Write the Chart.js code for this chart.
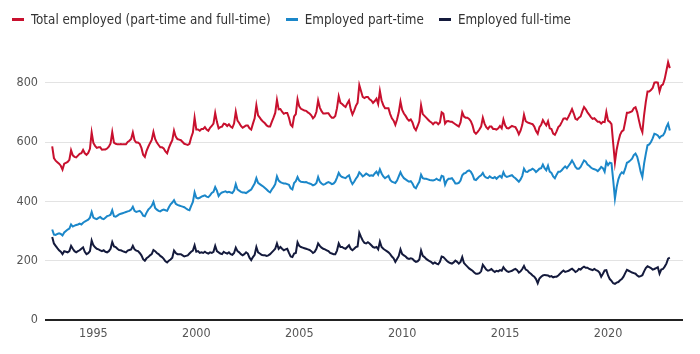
<!DOCTYPE html>
<html>
<head>
<meta charset="utf-8">
<script src="https://cdn.jsdelivr.net/npm/chart.js@4.4.1/dist/chart.umd.min.js"></script>
<style>
html,body{margin:0;padding:0;background:#fff;}
#wrap{position:relative;width:700px;height:354px;overflow:hidden;}
#legend{position:absolute;left:12px;top:12px;display:flex;align-items:center;font-family:'Liberation Sans Narrow','DejaVu Sans Condensed','Roboto',sans-serif;font-size:13.3px;color:#333;white-space:nowrap;}
#legend .item{display:flex;align-items:center;margin-right:15px;}
#legend .mk{display:inline-block;width:12px;height:3px;margin-right:7px;}
canvas{position:absolute;left:0;top:0;}
</style>
</head>
<body>
<div id="wrap"><canvas id="c" width="700" height="354"></canvas><div id="legend"></div></div>
<script>
// Monthly series, first value = January 1993, last value = January 2023 (thousands)
const startYear = 1993;
const seriesNames = ["Total employed (part-time and full-time)", "Employed part-time", "Employed full-time"];
const seriesColors = ["#c8102e", "#1b87c9", "#141a3c"];

const totalEmployed = [
585,546,537,532,527,520,507,527,530,533,540,572,
555,550,548,554,560,562,573,562,557,563,577,632,
597,587,580,582,582,574,575,575,578,584,595,633,
598,594,592,592,593,592,592,592,600,604,610,632,
606,598,598,594,580,557,550,570,584,596,607,634,
610,598,590,582,582,578,568,562,580,594,606,638,
618,610,608,606,600,594,592,590,594,615,632,682,
642,642,638,644,644,650,642,638,648,654,662,698,
668,646,650,652,662,660,654,660,652,648,662,702,
672,664,654,648,652,656,656,646,642,662,680,724,
690,682,674,668,663,656,652,652,668,682,698,742,
710,711,702,695,698,698,682,658,652,686,694,744,
720,712,709,706,705,700,696,690,680,686,702,740,
716,704,696,696,697,697,688,682,682,688,714,754,
732,728,722,718,730,740,710,693,706,722,732,792,
772,752,748,752,752,744,740,732,738,746,728,772,
740,724,714,714,714,694,680,672,658,676,700,736,
708,696,688,678,672,676,666,648,640,654,670,724,
694,688,682,676,670,666,660,666,666,660,666,700,
696,662,670,671,668,668,664,660,656,652,666,700,
686,682,682,678,670,656,634,628,634,642,652,682,
662,650,644,652,652,644,644,642,646,654,646,676,
656,647,646,650,654,652,650,640,626,638,658,692,
670,666,664,662,660,652,637,628,650,658,674,664,
656,670,646,644,628,624,636,650,656,667,679,680,
676,686,698,711,696,678,675,682,686,703,718,710,
700,692,684,678,680,674,668,668,662,668,667,701,
672,668,660,595,531,574,602,624,636,640,668,699,
699,701,704,714,717,700,673,648,633,691,735,770,
770,775,782,800,801,800,770,790,794,812,840,869,
849
];

const partTime = [
305,288,287,290,292,290,285,295,300,305,308,322,
315,318,320,322,325,322,328,332,335,338,345,364,
345,342,340,344,347,342,340,345,350,352,355,370,
350,348,352,356,358,360,362,364,366,368,372,382,
368,364,366,368,362,352,350,362,372,378,385,398,
378,372,368,366,370,372,370,368,380,390,396,404,
392,388,386,384,382,380,376,372,370,385,398,430,
412,410,412,416,418,420,416,414,420,428,432,448,
436,418,426,430,432,434,430,432,430,428,436,458,
440,436,432,430,430,428,432,436,440,450,460,478,
462,458,454,450,445,440,434,430,440,448,458,484,
470,465,462,460,460,458,456,444,440,462,468,482,
470,466,465,464,465,462,460,458,454,456,462,482,
466,460,456,458,462,465,462,458,460,466,480,496,
486,482,480,478,484,488,470,458,466,476,484,498,
492,484,488,494,490,486,488,486,494,500,490,508,
494,484,478,482,486,472,466,464,462,470,484,498,
486,478,474,470,466,468,460,448,444,456,466,490,
478,476,476,474,472,471,470,472,476,472,470,486,
484,456,470,476,476,478,470,460,460,462,470,488,
494,496,502,504,500,490,474,472,478,484,488,496,
484,480,478,484,480,478,482,476,482,486,480,498,
486,482,484,486,488,482,478,472,466,474,486,510,
500,499,504,506,510,506,499,504,510,512,524,512,
505,520,500,496,484,478,490,500,500,505,512,518,
512,520,528,538,528,516,510,510,516,527,538,534,
524,520,514,510,508,506,502,508,516,512,500,533,
522,530,528,471,409,448,474,490,498,494,510,530,
533,538,544,556,561,550,527,500,482,527,560,589,
592,600,612,628,626,622,614,620,622,632,650,662,
639
];

const fullTime = [
280,258,250,242,235,230,222,232,230,228,232,250,
240,232,228,232,235,240,245,230,222,225,232,268,
252,245,240,238,235,232,235,230,228,232,240,263,
248,246,240,236,235,232,230,228,234,236,238,250,
238,234,232,226,218,205,200,208,212,218,222,236,
232,226,222,216,212,206,198,194,200,204,210,234,
226,222,222,222,218,214,216,218,224,230,234,252,
230,232,226,228,226,230,226,224,228,226,230,250,
232,228,224,222,230,226,224,228,222,220,226,244,
232,228,222,218,222,228,224,210,202,212,220,246,
228,224,220,218,218,216,218,222,228,234,240,258,
240,246,240,235,238,240,226,214,212,224,226,262,
250,246,244,242,240,238,236,232,226,230,240,258,
250,244,240,238,235,232,226,224,222,222,234,258,
246,246,242,240,246,252,240,235,240,246,248,294,
280,268,260,258,262,258,252,246,244,246,238,264,
246,240,236,232,228,222,214,208,196,206,216,238,
222,218,214,208,206,208,206,200,196,198,204,234,
216,212,206,202,198,195,190,194,190,188,196,214,
212,206,200,195,192,190,194,200,196,190,196,212,
192,186,180,174,170,166,160,156,156,158,164,186,
178,170,166,168,172,166,162,166,164,168,166,178,
170,165,162,164,166,170,172,168,160,164,172,182,
170,167,160,156,150,146,138,124,140,146,150,152,
151,150,146,148,144,146,146,150,156,162,167,162,
164,166,170,173,168,162,165,172,170,176,180,176,
176,172,170,168,172,168,166,160,146,156,167,168,
150,138,132,124,122,126,128,134,138,146,158,169,
166,163,160,158,156,150,146,148,151,164,175,181,
178,175,170,172,175,178,156,170,172,180,190,207,
210
];

const yearTicks = [1995, 2000, 2005, 2010, 2015, 2020];
const valueTicks = [0, 200, 400, 600, 800];

const FONT = "'Liberation Sans Narrow','DejaVu Sans Condensed','Roboto',sans-serif";
const toPoints = arr => arr.map((v, i) => ({ x: startYear + i / 12, y: v }));
const allSeries = [totalEmployed, partTime, fullTime];

// HTML legend (real text)
const legendEl = document.getElementById('legend');
seriesNames.forEach((name, k) => {
  const it = document.createElement('span');
  it.className = 'item';
  const mk = document.createElement('span');
  mk.className = 'mk';
  mk.style.background = seriesColors[k];
  const tx = document.createElement('span');
  tx.textContent = name;
  it.appendChild(mk); it.appendChild(tx);
  legendEl.appendChild(it);
});

new Chart(document.getElementById('c'), {
  type: 'line',
  data: {
    datasets: allSeries.map((arr, k) => ({
      label: seriesNames[k],
      data: toPoints(arr),
      borderColor: seriesColors[k],
      backgroundColor: seriesColors[k],
      borderWidth: 2,
      pointRadius: 0,
      tension: 0,
      fill: false
    }))
  },
  options: {
    responsive: false,
    animation: false,
    devicePixelRatio: 1,
    layout: { padding: { left: 0, right: 17, top: 53, bottom: 0 } },
    plugins: { legend: { display: false }, tooltip: { enabled: false } },
    scales: {
      x: {
        type: 'linear',
        min: 1992.65,
        max: 2023.64,
        afterBuildTicks: s => { s.ticks = yearTicks.map(v => ({ value: v })); },
        afterFit: s => { s.height = 34; },
        grid: { display: false, drawTicks: false },
        border: { display: false },
        ticks: {
          padding: 6,
          maxRotation: 0,
          autoSkip: false,
          color: '#555',
          font: { family: FONT, size: 12.5 },
          callback: v => String(v)
        }
      },
      y: {
        min: 0,
        max: 900,
        afterBuildTicks: s => { s.ticks = valueTicks.map(v => ({ value: v })); },
        afterFit: s => { s.width = 45; },
        grid: {
          drawTicks: false,
          color: c => (c.tick && c.tick.value === 0) ? '#222222' : '#e3e3e3',
          lineWidth: c => (c.tick && c.tick.value === 0) ? 2 : 1
        },
        border: { display: false },
        ticks: {
          padding: 7,
          color: '#555',
          font: { family: FONT, size: 12.5 },
          callback: v => String(v)
        }
      }
    }
  }
});
</script>
</body>
</html>
